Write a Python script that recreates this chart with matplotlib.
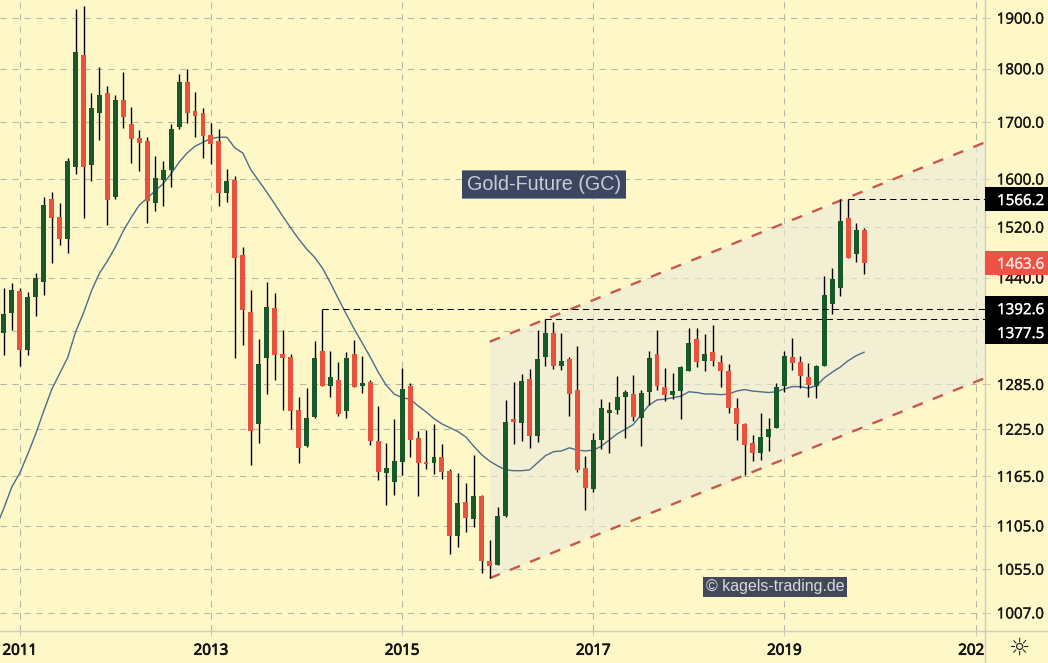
"""
Gold future (GC) monthly candles with channel and moving average
"""

import numpy as np
import matplotlib
matplotlib.use("Agg")
import matplotlib.pyplot as plt
import matplotlib.patheffects as pe
from matplotlib.patches import Rectangle
from matplotlib.ticker import FixedLocator, NullLocator, FuncFormatter
from matplotlib.transforms import Bbox

W, H = 1048, 663
PANEL_X = 985   # left edge of the price scale (px)
TIME_Y = 631    # top edge of the time scale (px)

BG = "#fef7c8"
GREEN = "#17592b"
RED = "#e8513d"
FONT = "Open Sans"

########################################################
# DATA (months are counted from Jan 2011)

opens = [1358, 1387, 1420, 1333, 1411, 1433, 1566, 1536, 1501, 1621,
         1826, 1625, 1716, 1754, 1569, 1741, 1697, 1672, 1666, 1560,
         1598, 1616, 1692, 1775, 1720, 1716, 1677, 1666, 1576, 1598,
         1475, 1388, 1232, 1322, 1394, 1328, 1323, 1251, 1203, 1241,
         1332, 1283, 1291, 1249, 1328, 1283, 1288, 1210, 1169, 1158,
         1183, 1283, 1214, 1183, 1182, 1189, 1172, 1093, 1134, 1113,
         1141, 1064, 1060, 1117, 1238, 1233, 1293, 1216, 1323, 1358,
         1311, 1320, 1278, 1175, 1149, 1211, 1247, 1251, 1268, 1272,
         1240, 1275, 1328, 1282, 1271, 1276, 1304, 1349, 1318, 1330,
         1316, 1304, 1253, 1232, 1207, 1194, 1215, 1227, 1283, 1323,
         1316, 1295, 1283, 1311, 1400, 1424, 1535, 1477, 1515]
highs = [1424, 1432, 1424, 1418, 1448, 1569, 1578, 1560, 1637, 1918,
         1924, 1754, 1804, 1767, 1751, 1794, 1728, 1686, 1673, 1639,
         1631, 1696, 1790, 1799, 1756, 1726, 1698, 1688, 1617, 1605,
         1488, 1422, 1349, 1434, 1417, 1362, 1328, 1268, 1280, 1346,
         1393, 1332, 1316, 1330, 1348, 1325, 1291, 1256, 1207, 1238,
         1308, 1287, 1223, 1224, 1232, 1206, 1174, 1169, 1157, 1192,
         1142, 1088, 1127, 1264, 1288, 1299, 1306, 1362, 1378, 1374,
         1358, 1323, 1339, 1191, 1220, 1265, 1261, 1297, 1277, 1298,
         1278, 1332, 1362, 1308, 1301, 1310, 1365, 1365, 1356, 1369,
         1326, 1314, 1267, 1233, 1218, 1247, 1240, 1287, 1332, 1350,
         1325, 1315, 1312, 1443, 1455, 1566, 1566, 1527, 1519]
lows = [1326, 1362, 1310, 1326, 1382, 1414, 1463, 1491, 1479, 1609,
        1535, 1597, 1668, 1523, 1566, 1689, 1628, 1614, 1527, 1546,
        1555, 1587, 1688, 1698, 1673, 1636, 1626, 1555, 1561, 1322,
        1340, 1179, 1207, 1272, 1291, 1251, 1225, 1182, 1202, 1240,
        1283, 1268, 1242, 1240, 1281, 1273, 1205, 1160, 1130, 1142,
        1167, 1189, 1141, 1174, 1168, 1162, 1072, 1080, 1098, 1104,
        1051, 1045, 1060, 1116, 1206, 1210, 1201, 1209, 1311, 1306,
        1305, 1243, 1170, 1124, 1146, 1200, 1194, 1245, 1214, 1236,
        1203, 1257, 1278, 1262, 1265, 1238, 1303, 1309, 1304, 1311,
        1282, 1246, 1211, 1167, 1184, 1186, 1197, 1226, 1275, 1305,
        1280, 1268, 1267, 1310, 1385, 1412, 1470, 1464, 1446]
closes = [1386, 1421, 1333, 1410, 1439, 1556, 1535, 1501, 1631, 1832,
          1621, 1726, 1751, 1565, 1741, 1709, 1670, 1663, 1563, 1602,
          1616, 1688, 1775, 1716, 1711, 1675, 1661, 1576, 1597, 1471,
          1391, 1223, 1314, 1396, 1326, 1322, 1249, 1201, 1240, 1322,
          1283, 1295, 1245, 1322, 1282, 1287, 1210, 1170, 1175, 1184,
          1279, 1211, 1182, 1181, 1189, 1170, 1093, 1132, 1114, 1141,
          1064, 1059, 1117, 1235, 1235, 1290, 1216, 1320, 1358, 1311,
          1318, 1272, 1173, 1151, 1211, 1253, 1251, 1268, 1275, 1241,
          1274, 1322, 1283, 1270, 1276, 1309, 1343, 1316, 1328, 1318,
          1304, 1253, 1232, 1205, 1194, 1215, 1225, 1282, 1324, 1315,
          1297, 1284, 1311, 1414, 1438, 1530, 1471, 1515, 1463.6]

# moving average, starts one month before the first candle
ma_values = [1103, 1126, 1152, 1169, 1193, 1219, 1249, 1278, 1300, 1322,
             1359, 1387, 1420, 1447, 1466, 1488, 1514, 1536, 1556, 1568,
             1580, 1592, 1609, 1629, 1645, 1657, 1664, 1671, 1673, 1673,
             1654, 1645, 1616, 1597, 1578, 1558, 1538, 1519, 1501, 1485,
             1472, 1455, 1432, 1408, 1385, 1363, 1343, 1323, 1302, 1284,
             1272, 1267, 1265, 1256, 1248, 1239, 1232, 1227, 1222, 1215,
             1203, 1192, 1184, 1178, 1173, 1172, 1172, 1173, 1182, 1191,
             1196, 1197, 1201, 1198, 1197, 1198, 1203, 1211, 1219, 1225,
             1231, 1244, 1257, 1264, 1265, 1267, 1269, 1275, 1274, 1272,
             1272, 1271, 1272, 1276, 1278, 1276, 1275, 1274, 1275, 1279,
             1282, 1282, 1280, 1283, 1294, 1302, 1309, 1318, 1325, 1330]

first_month = -2
ma_first_month = -3

# trend channel: start month, end month, prices at both ends
channel_months = [59, 121.2]
channel_upper = [1345, 1664]
channel_lower = [1045, 1294]

# dashed levels: price, month they start at
level_prices = [1392.6, 1377.5, 1566.2]
level_months = [38, 66, 104]

y_ticks = [1007, 1055, 1105, 1165, 1225, 1285, 1360, 1440, 1520, 1600, 1700, 1800, 1900]
x_tick_months = [0, 24, 48, 72, 96, 120]
x_tick_labels = ["2011", "2013", "2015", "2017", "2019", "2021"]

########################################################
# FIGURE

fig = plt.figure(figsize=(W / 100, H / 100), dpi=100, facecolor=BG)
ax = fig.add_axes([0, (H - TIME_Y) / H, PANEL_X / W, TIME_Y / H], facecolor=BG)

ax.set_yscale("log")
ax.set_ylim(987.7, 1936.9)
ax.set_xlim(-19.8 / 7.965, (PANEL_X - 19.8) / 7.965)

ax.yaxis.tick_right()
ax.yaxis.set_major_locator(FixedLocator(y_ticks))
ax.yaxis.set_minor_locator(NullLocator())
ax.yaxis.set_major_formatter(FuncFormatter(lambda v, p: "%.1f" % v))
ax.set_xticks(x_tick_months)
ax.set_xticklabels(x_tick_labels)
ax.tick_params(axis="y", length=3.6, width=0.7, color="#cfcdb8", pad=4.8,
               labelsize=10.9, labelcolor="#141414")
ax.tick_params(axis="x", length=3.6, width=0.7, color="#cfcdb8", pad=5.5,
               labelsize=10.9, labelcolor="#141414")

# the fonts here have no medium weight, so thicken the labels a little
for lab in ax.get_yticklabels():
    lab.set_family(FONT)
    lab.set_path_effects([pe.withStroke(linewidth=0.25, foreground="#141414")])
for lab in ax.get_xticklabels():
    lab.set_family(FONT)
    lab.set_path_effects([pe.withStroke(linewidth=0.6, foreground="#141414")])

# the last year label is cut off by the price scale
clip = Bbox.from_extents(0, 0, PANEL_X, H)
for lab in ax.get_xticklabels():
    lab.set_clip_box(clip)
    lab.set_clip_on(True)

ax.grid(True, color="#b7b5a4", lw=0.75, dashes=(6, 5.5))
ax.set_axisbelow(True)
for name in ["top", "left"]:
    ax.spines[name].set_visible(False)
for name in ["right", "bottom"]:
    ax.spines[name].set_color("#cfcdc0")
    ax.spines[name].set_linewidth(1.0)

# scale borders run on to the edge of the figure
fig.add_artist(plt.Line2D([PANEL_X / W, 1], [(H - TIME_Y) / H] * 2, color="#cfcdc0", lw=1.0))
fig.add_artist(plt.Line2D([(PANEL_X - 0.5) / W] * 2, [0, (H - TIME_Y) / H], color="#cfcdc0", lw=1.0))

########################################################
# CHANNEL, AVERAGE, LEVELS

ax.fill_between(channel_months, channel_lower, channel_upper, color="#eceadc",
                alpha=0.6, lw=0, zorder=2)
for prices in [channel_upper, channel_lower]:
    ax.plot(channel_months, prices, color="#c8584e", lw=1.7, dashes=(4.6, 4.6), zorder=3)

ma_months = np.arange(len(ma_values)) + ma_first_month
ax.plot(ma_months, ma_values, color="#4a6f8a", lw=1.0, zorder=3)

########################################################
# CANDLES

months = np.arange(len(closes)) + first_month
opens = np.array(opens)
closes = np.array(closes)
colors = [GREEN if c >= o else RED for o, c in zip(opens, closes)]

ax.vlines(months, lows, highs, color="black", lw=1.0, zorder=4)
ax.bar(months, np.abs(closes - opens), bottom=np.minimum(opens, closes), width=0.62,
       color=colors, lw=0, zorder=5)

for price, start in zip(level_prices, level_months):
    ax.plot([start, ax.get_xlim()[1]], [price, price], color="black", lw=0.75,
            dashes=(6, 4), zorder=6)

########################################################
# PRICE LABELS ON THE SCALE

def price_label(text, price, color, shift=0, txt_color="white"):
    # box in pixels, centred on the price (shift moves it down)
    y = ax.transData.transform((0, price))[1] - shift
    ax.add_patch(Rectangle((PANEL_X, y - 12), W - PANEL_X, 24, transform=None,
                           facecolor=color, edgecolor="none", clip_on=False, zorder=10))
    ax.text(997, y - 0.5, text, transform=None, color=txt_color, ha="left", va="center_baseline",
            family=FONT, fontsize=10.9, clip_on=False, zorder=11,
            path_effects=[pe.withStroke(linewidth=0.25, foreground=txt_color)])

price_label("1566.2", level_prices[2], "black")
price_label("1463.6", closes[-1], "#ef5245", txt_color="#fde6e2")
price_label("1392.6", level_prices[0], "black", shift=-1)
price_label("1377.5", level_prices[1], "black", shift=12.7)

########################################################
# CAPTIONS

def caption(text, x0, x1, y0, y1, color, txt_color, size):
    fig.add_artist(Rectangle((x0 / W, 1 - y1 / H), (x1 - x0) / W, (y1 - y0) / H,
                             transform=fig.transFigure, facecolor=color, edgecolor="none", zorder=8))
    fig.text((x0 + x1) / 2 / W, 1 - (y0 + y1) / 2 / H, text, color=txt_color, ha="center",
             va="center", family="Liberation Sans", fontsize=size, zorder=9)

fig.add_artist(Rectangle((462 / W, 1 - 199 / H), 164 / W, 29 / H, transform=fig.transFigure,
                         facecolor="#7f8f99", edgecolor="none", zorder=7))
caption("Gold-Future (GC)", 462, 626, 171, 198, "#3d4660", "#c9cdd6", 14.2)
caption("\u00a9 kagels-trading.de", 703, 847, 577, 597, "#434859", "#d8d9dc", 11.4)

# settings icon of the chart
fig.text(1019 / W, 1 - 648 / H, "\u263c", family="DejaVu Sans", fontsize=17, color="#1d1d1d",
         ha="center", va="center")

fig.savefig("out.png", dpi=100, facecolor=BG)
